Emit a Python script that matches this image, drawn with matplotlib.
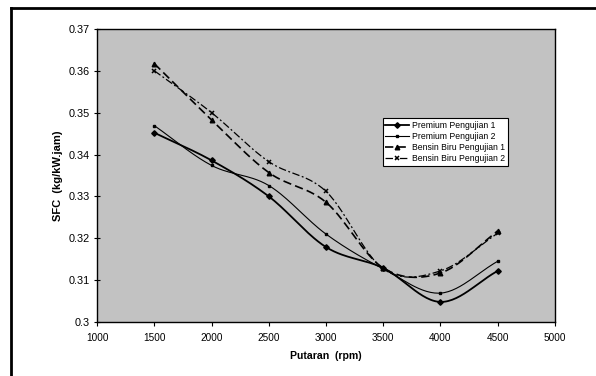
import numpy as np
import matplotlib
matplotlib.use("Agg")
import matplotlib.pyplot as plt
from matplotlib.lines import Line2D

plt.rcParams['font.family'] = ['Liberation Sans', 'DejaVu Sans']

rpm = [1500, 2000, 2500, 3000, 3500, 4000, 4500]
premium1 = [0.3452, 0.3386, 0.3300, 0.3179, 0.3129, 0.3048, 0.3122]
premium2 = [0.3469, 0.3374, 0.3326, 0.3210, 0.3127, 0.3069, 0.3145]
bensin1 = [0.3617, 0.3483, 0.3357, 0.3286, 0.3129, 0.3117, 0.3217]
bensin2 = [0.3600, 0.3500, 0.3383, 0.3312, 0.3127, 0.3122, 0.3212]
labels = ["Premium Pengujian 1", "Premium Pengujian 2",
          "Bensin Biru Pengujian 1", "Bensin Biru Pengujian 2"]


def smooth(x, y, n=30):
    x = np.asarray(x, float); y = np.asarray(y, float)
    P = np.column_stack([x, y])
    P = np.vstack([2 * P[0] - P[1], P, 2 * P[-1] - P[-2]])
    out = []
    t = np.linspace(0, 1, n)
    for i in range(1, len(P) - 2):
        p0, p1, p2, p3 = P[i - 1], P[i], P[i + 1], P[i + 2]
        seg = 0.5 * ((2 * p1)[None, :] + np.outer(t, (-p0 + p2)) +
                     np.outer(t ** 2, (2 * p0 - 5 * p1 + 4 * p2 - p3)) +
                     np.outer(t ** 3, (-p0 + 3 * p1 - 3 * p2 + p3)))
        out.append(seg if i == 1 else seg[1:])
    S = np.vstack(out)
    return S[:, 0], S[:, 1]


fig = plt.figure(figsize=(5.96, 3.76), dpi=100)
ax = fig.add_axes([0.163, 0.1436, 0.768, 0.7794])
ax.set_facecolor('#c2c2c2')

series = [
    (premium1, dict(ls='-', lw=1.3), dict(marker='D', ms=2.8)),
    (premium2, dict(ls='-', lw=0.8), dict(marker='s', ms=2.0)),
    (bensin1, dict(ls=(0, (5, 2.5)), lw=1.2), dict(marker='^', ms=3.3)),
    (bensin2, dict(ls=(0, (6, 2, 1.5, 2)), lw=0.9), dict(marker='x', ms=3.0, mew=1.1)),
]
handles = []
for (vals, lst, mk), lab in zip(series, labels):
    xs, ys = smooth(rpm, vals)
    ax.plot(xs, ys, color='black', **lst)
    ax.plot(rpm, vals, ls='none', color='black', **mk)
    handles.append(Line2D([], [], color='black', **lst, **mk))

ax.set_xlim(1000, 5000)
ax.set_ylim(0.30, 0.37)
ax.set_xticks(np.arange(1000, 5001, 500))
ax.set_yticks([0.30, 0.31, 0.32, 0.33, 0.34, 0.35, 0.36, 0.37])
ax.set_yticklabels(['0.3', '0.31', '0.32', '0.33', '0.34', '0.35', '0.36', '0.37'])
ax.tick_params(axis='x', labelsize=7.2, length=3, width=0.8, direction='out', pad=5)
ax.tick_params(axis='y', labelsize=7.8, length=5, width=0.8, direction='inout', pad=3)
for s in ax.spines.values():
    s.set_linewidth(1.0)
ax.set_xlabel('Putaran  (rpm)', fontsize=7.6, fontweight='bold', labelpad=6)
ax.set_ylabel('SFC  (kg/kW.jam)', fontsize=8, fontweight='bold', labelpad=4)

leg = ax.legend(handles, labels, loc='upper left', bbox_to_anchor=(0.624, 0.696),
                fontsize=6.2, frameon=True, fancybox=False, handlelength=2.8,
                handletextpad=0.3, borderpad=0.3, labelspacing=0.25, borderaxespad=0)
leg.get_frame().set_edgecolor('black')
leg.get_frame().set_linewidth(0.8)
leg.get_frame().set_facecolor('white')
leg.get_frame().set_alpha(1)

# outer frame (top and left edges visible)
fig.add_artist(Line2D([11 / 596, 1.0], [1 - 8 / 376, 1 - 8 / 376],
                      transform=fig.transFigure, color='black', lw=2))
fig.add_artist(Line2D([11 / 596, 11 / 596], [0.0, 1 - 8 / 376],
                      transform=fig.transFigure, color='black', lw=2))

fig.savefig('out.png', dpi=100)
